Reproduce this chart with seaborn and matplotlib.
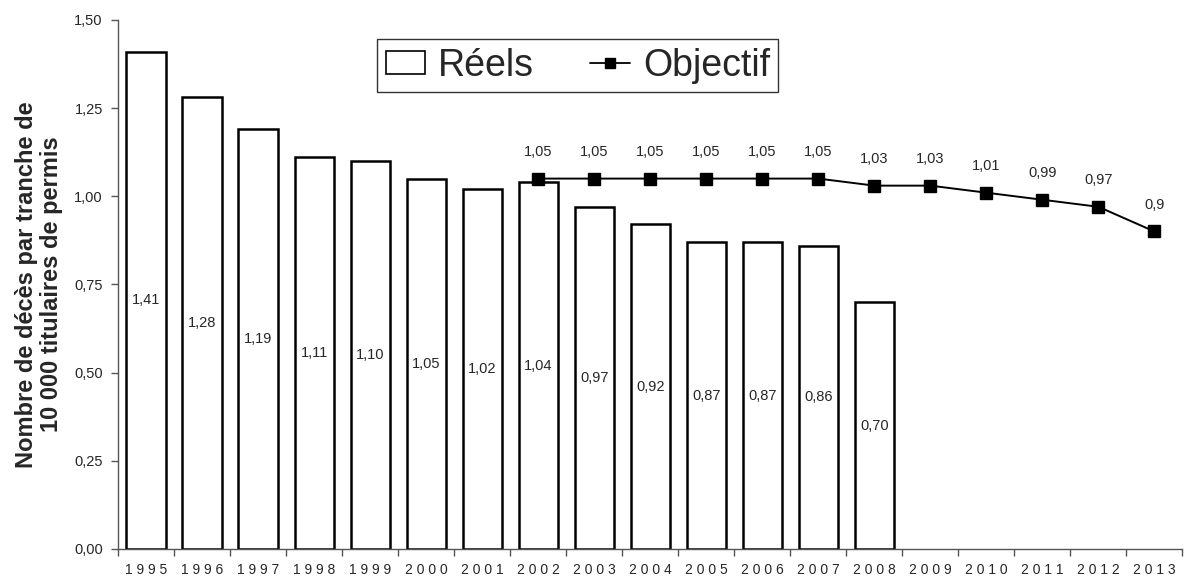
import numpy as np
import pandas as pd
import matplotlib
matplotlib.use("Agg")
import matplotlib.pyplot as plt
from matplotlib.ticker import FuncFormatter, FixedLocator
from matplotlib.lines import Line2D
from matplotlib.patches import Patch
import seaborn as sns

# data
years = [str(y) for y in range(1995, 2014)]
reels_years = years[:14]
reels = [1.41, 1.28, 1.19, 1.11, 1.10, 1.05, 1.02, 1.04, 0.97, 0.92, 0.87, 0.87, 0.86, 0.70]
reels_labels = ["1,41", "1,28", "1,19", "1,11", "1,10", "1,05", "1,02", "1,04",
                "0,97", "0,92", "0,87", "0,87", "0,86", "0,70"]
obj_years = years[7:]
objectif = [1.05, 1.05, 1.05, 1.05, 1.05, 1.05, 1.03, 1.03, 1.01, 0.99, 0.97, 0.90]
obj_labels = ["1,05", "1,05", "1,05", "1,05", "1,05", "1,05", "1,03", "1,03",
              "1,01", "0,99", "0,97", "0,9"]

sns.set_style("white")
plt.rcParams['font.family'] = ['Liberation Sans', 'DejaVu Sans']

fig = plt.figure(figsize=(11.84, 5.84), dpi=100)
ax = fig.add_axes([0.0997, 0.06, 0.899, 0.906])

df = pd.DataFrame({'annee': reels_years, 'valeur': reels})
sns.barplot(data=df, x='annee', y='valeur', order=years, ax=ax,
            color='white', edgecolor='black', linewidth=1.8, width=0.7,
            saturation=1)

pos = [years.index(y) for y in obj_years]
ax.plot(pos, objectif, color='black', linewidth=1.4, marker='s', markersize=8.5)

# labels inside bars (mid height)
for i, (v, lab) in enumerate(zip(reels, reels_labels)):
    ax.text(i, v / 2, lab, ha='center', va='center', fontsize=10.5)
# labels above line
for p, v, lab in zip(pos, objectif, obj_labels):
    ax.text(p, v + 0.076, lab, ha='center', va='center', fontsize=10.5)

ax.set_xlim(-0.5, len(years) - 0.5)
ax.set_ylim(0, 1.5)
ax.set_yticks([0, 0.25, 0.5, 0.75, 1.0, 1.25, 1.5])
ax.yaxis.set_major_formatter(FuncFormatter(lambda v, _: f"{v:.2f}".replace('.', ',')))
ax.set_xticks(range(len(years)))
ax.set_xticklabels([" ".join(y) for y in years], fontsize=10)
ax.xaxis.set_minor_locator(FixedLocator(np.arange(-0.5, len(years), 1)))
ax.tick_params(axis='x', which='major', length=0, pad=10)
ax.tick_params(axis='x', which='minor', length=5, color='#555555', width=1, direction='out', bottom=True)
ax.tick_params(axis='y', length=5, color='#555555', width=1, direction='out', left=True, labelsize=10.5, pad=6)

sns.despine(ax=ax)
for s in ['left', 'bottom']:
    ax.spines[s].set_color('#555555')
    ax.spines[s].set_linewidth(1)

ax.set_xlabel("")
ax.set_ylabel("Nombre de décès par tranche de\n10 000 titulaires de permis",
              fontsize=17, fontweight='bold', labelpad=8, linespacing=1.12)

handles = [Patch(facecolor='white', edgecolor='black', linewidth=1.2),
           Line2D([], [], color='black', marker='s', markersize=7, linewidth=1.3)]
leg = ax.legend(handles, ['Réels', 'Objectif'], loc='upper center',
                bbox_to_anchor=(0.432, 0.963), ncol=2, fontsize=27, frameon=True,
                fancybox=False, edgecolor='black', handlelength=1.05,
                handleheight=0.6, handletextpad=0.35, columnspacing=1.5,
                borderpad=0.22, borderaxespad=0)
leg.get_frame().set_linewidth(1)

fig.savefig("out.png", dpi=100)
